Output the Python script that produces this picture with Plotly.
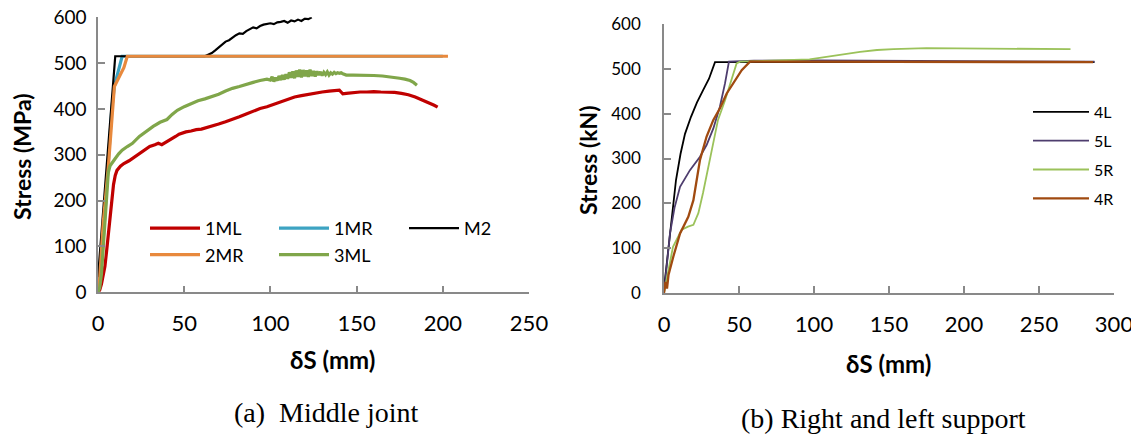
import plotly.graph_objects as go

# The page body has an 8px margin, so the figure is drawn 8px in from the top-left corner.
OFF = 8
W, H = 1139 - OFF, 434 - OFF

# ---------------- Data: (a) Middle joint ----------------
ml1_x = [0, 1, 2, 3, 4, 5, 6, 7, 8, 9, 10, 11, 13, 15, 18, 21, 24, 27, 30, 33, 35, 37, 39, 41, 43, 45,
         47, 49, 51, 54, 57, 60, 63, 66, 70, 74, 78, 82, 86, 90, 94, 98, 102, 106, 110, 114, 118, 122,
         126, 130, 134, 138, 140, 141, 142, 144, 148, 152, 156, 160, 164, 168, 172, 176, 180, 184, 188,
         192, 195, 197]
ml1_y = [0, 5, 18, 35, 56, 90, 128, 165, 205, 235, 255, 266, 275, 281, 287, 295, 303, 312, 318, 322,
         325, 322, 326, 330, 335, 340, 345, 348, 350, 352, 355, 356, 359, 362, 367, 372, 377, 383, 389,
         395, 401, 405, 410, 415, 420, 426, 429, 432, 435, 437, 439, 440, 441, 437, 433, 434, 436, 437,
         437, 438, 437, 437, 436, 434, 431, 426, 420, 414, 408, 404]

mr1_x = [0, 2, 4, 6, 8, 9.5, 11, 12.5, 14, 200]
mr1_y = [0, 60, 170, 290, 400, 450, 470, 490, 515, 515]

m2_x = [0, 10, 62, 64, 66, 68, 70, 72, 74, 76, 78, 80, 82, 84, 86, 88, 90, 92, 94, 96, 98, 100, 102,
        104, 106, 108, 110, 112, 114, 116, 118, 120, 122, 124]
m2_y = [33, 515, 515, 518, 522, 528, 534, 540, 547, 550, 556, 561, 565, 564, 570, 574, 578, 576, 581,
        584, 586, 587, 585, 589, 590, 592, 588, 593, 591, 595, 592, 597, 596, 600]

mr2_x = [0, 1, 3, 6, 9.5, 11, 13, 15, 17, 203]
mr2_y = [10, 30, 150, 274, 449, 462, 475, 490, 515, 515]

ml3_x = [0, 1, 2, 3, 4, 5, 6, 7, 8, 10, 12, 14, 17, 20, 24, 28, 32, 36, 38, 40, 43, 46, 50, 54, 58,
         62, 66, 70, 74, 78, 82, 86, 90, 94, 98, 100, 101, 102, 103, 104, 105, 106, 107, 108, 109, 110,
         111, 112, 113, 114, 115, 116, 117, 118, 119, 120, 121, 122, 123, 124, 125, 126, 127, 128, 129,
         130, 131, 132, 133, 134, 135, 136, 137, 138, 139, 140, 141, 142, 143, 144, 148, 155, 160, 165,
         170, 175, 178, 181, 183, 185]
ml3_y = [0, 10, 40, 92, 150, 215, 262, 276, 282, 292, 302, 310, 318, 325, 340, 352, 362, 371, 374,
         377, 388, 397, 405, 412, 418, 422, 427, 432, 439, 445, 449, 454, 458, 462, 465, 463, 470, 460,
         468, 462, 472, 463, 474, 464, 476, 466, 480, 468, 482, 467, 484, 470, 486, 469, 485, 471, 484,
         470, 486, 472, 483, 471, 482, 474, 481, 473, 480, 475, 481, 474, 479, 476, 480, 477, 479, 478,
         479, 477, 476, 474, 474, 474, 473, 472, 470, 467, 465, 462, 458, 452]

# ---------------- Data: (b) Right and left support ----------------
l4_x = [0, 1, 3, 5, 8, 11, 14, 18, 22, 26, 30, 34, 287]
l4_y = [10, 40, 110, 175, 252, 310, 355, 393, 425, 452, 478, 515, 515]

l5_x = [0, 4, 7, 10.7, 17.3, 24, 28.4, 32.9, 37.3, 40.7, 43.3, 60, 100, 150, 200, 287]
l5_y = [0, 133, 190, 237, 274, 304, 330, 367, 416, 468, 516, 518, 519, 518, 517, 516]

r5_x = [0, 6, 11.8, 16, 19.6, 22.9, 26, 29.6, 33, 36, 40.7, 45, 48.4, 50.7, 70, 97, 115, 130.7,
        142, 152.9, 175, 220, 271]
r5_y = [0, 103, 141, 148, 152, 178, 223, 282, 341, 386, 430, 475, 512, 516, 518, 521, 530, 538,
        542, 544, 546, 545, 544]

r4_x = [0, 1, 2, 3, 6.2, 10.7, 16.2, 19.6, 24, 28.4, 32.9, 37.3, 41.8, 46.2, 51.8, 57.3, 286]
r4_y = [0, 25, 10, 40, 81, 133, 170, 207, 297, 349, 386, 412, 445, 468, 497, 516, 515]

x_ticks_a = [0, 50, 100, 150, 200, 250]
x_ticks_b = [0, 50, 100, 150, 200, 250, 300]
y_ticks = [0, 100, 200, 300, 400, 500, 600]

FONT = "Lato"
AX = "#898989"

fig = go.Figure()

def add(x, y, name, color, width, xa, ya, legend, group):
    fig.add_trace(go.Scatter(x=x, y=y, name=name, mode="lines",
                             line=dict(color=color, width=width),
                             xaxis=xa, yaxis=ya, legend=legend, legendgroup=group))

add(ml1_x, ml1_y, "1ML", "#c00000", 3.2, "x", "y", "legend", "a1")
add(mr1_x, mr1_y, "1MR", "#3da3c2", 3.2, "x", "y", "legend2", "a2")
add(m2_x, m2_y, "M2", "#000000", 2.2, "x", "y", "legend3", "a3")
add(mr2_x, mr2_y, "2MR", "#e8893d", 3.2, "x", "y", "legend", "a4")
add(ml3_x, ml3_y, "3ML", "#80a64a", 3.2, "x", "y", "legend2", "a5")

add(l4_x, l4_y, "4L", "#000000", 1.8, "x2", "y2", "legend4", "b1")
add(l5_x, l5_y, "5L", "#4e3d6e", 1.8, "x2", "y2", "legend4", "b2")
add(r5_x, r5_y, "5R", "#9bc25a", 1.8, "x2", "y2", "legend4", "b3")
add(r4_x, r4_y, "4R", "#a04a10", 2.3, "x2", "y2", "legend4", "b4")

# screen pixel -> paper fraction
def px_x(p):
    return (p - OFF) / W

def px_y(p):
    return 1 - (p - OFF) / H

axis_common = dict(showgrid=False, zeroline=False, showline=True, linecolor=AX, linewidth=1.5,
                   ticks="inside", ticklen=7, tickwidth=1.5, tickcolor=AX,
                   ticklabeloverflow="allow",
                   tickfont=dict(family=FONT, size=22, color="#000000"))

leg_common = dict(xanchor="left", yanchor="top", bgcolor="rgba(0,0,0,0)", borderwidth=0)

fig.update_layout(
    width=W, height=H, margin=dict(l=0, r=0, t=0, b=0, autoexpand=False),
    paper_bgcolor="white", plot_bgcolor="white",
    xaxis=dict(domain=[px_x(98), px_x(529)], range=[0, 250], tickvals=x_ticks_a,
               anchor="y", ticklabelstandoff=11, **axis_common),
    yaxis=dict(domain=[px_y(292.3), px_y(17.3)], range=[0, 600], tickvals=y_ticks,
               anchor="x", ticklabelstandoff=6,
               **{**axis_common, "tickfont": dict(family=FONT, size=19, color="#000000")}),
    xaxis2=dict(domain=[px_x(664), px_x(1114)], range=[0, 300], tickvals=x_ticks_b,
                anchor="y2", ticklabelstandoff=11, **axis_common),
    yaxis2=dict(domain=[px_y(293), px_y(24)], range=[0, 600], tickvals=y_ticks,
                anchor="x2", ticklabelstandoff=18,
                **{**axis_common, "tickfont": dict(family=FONT, size=17, color="#000000")}),
    legend=dict(x=px_x(145), y=px_y(210), font=dict(family=FONT, size=18, color="#000"),
                itemwidth=50, tracegroupgap=0, **leg_common),
    legend2=dict(x=px_x(274), y=px_y(210), font=dict(family=FONT, size=18, color="#000"),
                 itemwidth=50, tracegroupgap=0, **leg_common),
    legend3=dict(x=px_x(404), y=px_y(210), font=dict(family=FONT, size=18, color="#000"),
                 itemwidth=50, tracegroupgap=0, **leg_common),
    legend4=dict(x=px_x(1028), y=px_y(95), font=dict(family=FONT, size=16, color="#000"),
                 itemwidth=56, tracegroupgap=5, **leg_common),
    showlegend=True,
)

def ann(text, x, y, size, family, angle=0):
    fig.add_annotation(text=text, x=px_x(x), y=px_y(y), xref="paper", yref="paper",
                       xanchor="center", yanchor="middle", showarrow=False, textangle=angle,
                       font=dict(family=family, size=size, color="#000000"))

ann("<b>δS (mm)</b>", 332, 359, 24, FONT)
ann("<b>δS (mm)</b>", 888, 363, 24, FONT)
ann("<b>Stress (MPa)</b>", 22, 157, 23, FONT, -90)
ann("<b>Stress (kN)</b>", 588, 160, 23, FONT, -90)
ann("(a)  Middle joint", 326, 412, 28, "Liberation Serif")
ann("(b) Right and left support", 883, 418, 28, "Liberation Serif")

fig.write_html("out.html")
